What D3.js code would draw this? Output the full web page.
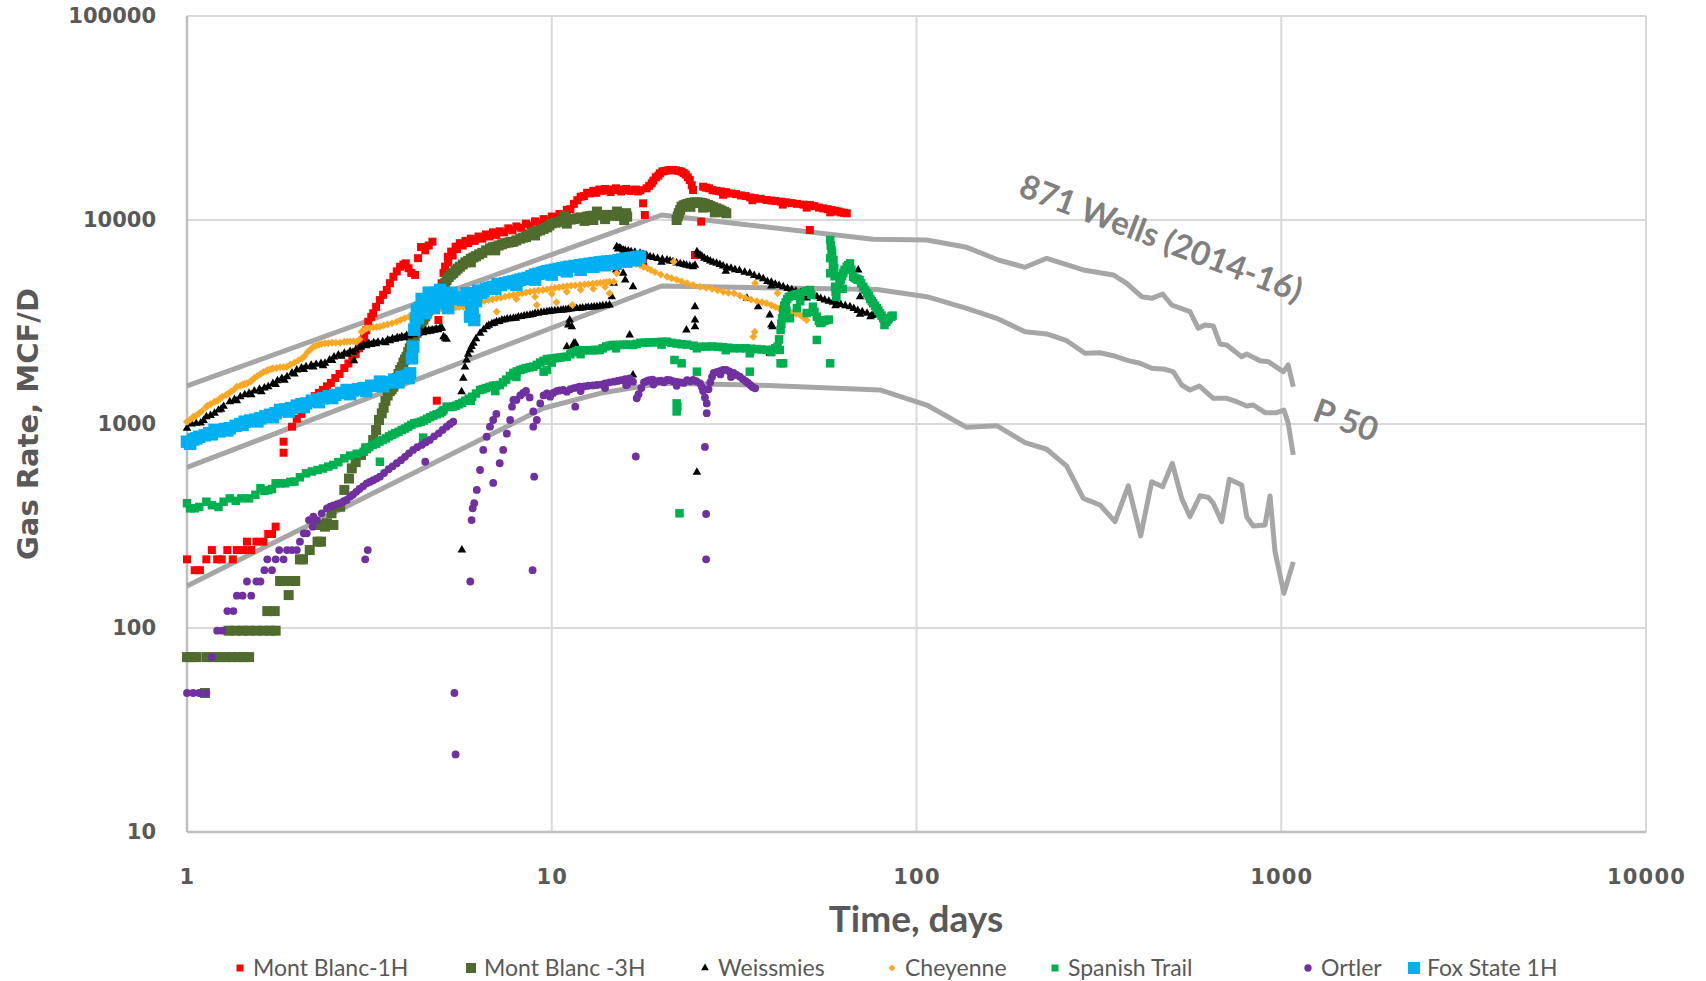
<!DOCTYPE html>
<html><head><meta charset="utf-8">
<script src="https://cdn.jsdelivr.net/npm/d3@7"></script>
<style>html,body{margin:0;padding:0;background:#fff}</style>
</head><body>
<svg id="chart" width="1706" height="981"></svg>
<script>
const xTicks = [1, 10, 100, 1000, 10000];
const yTicks = [10, 100, 1000, 10000, 100000];
const seriesNames = ["Mont Blanc-1H", "Mont Blanc -3H", "Weissmies", "Cheyenne", "Spanish Trail", "Ortler", "Fox State 1H"];
const xTitle = "Time, days";
const yTitle = "Gas Rate, MCF/D";
const annotWells = "871 Wells (2014-16)";
const annotP50 = "P 50";

// type curves (871 wells) : days, MCF/D
const wellsHigh = [[1,1536],[20,10580],[76.1,8043],[106.7,7980],[137.3,7347],[167.6,6368],[198.4,5864],[227.5,6493],[286.6,5688],[346.4,5377],[377,4894],[414.4,4207],[441.3,4132],[473,4338],[500.8,3831],[562,3552],[592.4,2945],[618,3057],[651,3023],[679,2468],[708.7,2440],[779,2137],[804,2204],[874.4,2044],[921.6,2021],[1013,1805],[1045,1946],[1079,1523]];
const wellsP50 = [[1,613],[20,4748],[78,4560],[106.7,4207],[137.3,3692],[165.9,3297],[198.4,2835],[227.5,2762],[258.1,2561],[289.7,2221],[318.6,2236],[346.4,2162],[380.9,2044],[410,1984],[441.3,1875],[480,1854],[505.8,1805],[533.4,1553],[562,1468],[596,1536],[651,1337],[708.7,1337],[755,1286],[804,1225],[838,1239],[902.8,1136],[971.6,1136],[1017,1171],[1045,1008],[1079,705]];
const wellsLow = [[1,160.7],[7.21,934.6],[9.48,1194],[13.56,1414],[19.8,1583],[35.7,1553],[79.4,1468],[106.7,1239],[137.3,963],[165.9,981],[198.4,810],[227.5,752],[258.1,622],[286.6,432],[318.6,401],[350.1,332],[380.8,497],[411.8,283],[441.3,521],[473,493],[502.6,642],[533.4,432],[562,351],[598.7,445],[631,437],[651,409],[686.6,332],[720.4,536],[779,502],[804,351],[838,316],[902.8,320],[931.6,444],[961.3,237],[1017,148],[1079,211]];

const montBlanc1H = [[1.0,217],[1.05,192],[1.085,192],[1.13,217],[1.17,241],[1.21,217],[1.245,217],[1.29,241],[1.335,217],[1.37,241],[1.43,241],[1.46,265],[1.5,241],[1.55,265],[1.62,265],[1.67,289],[1.71,289],[1.75,314],[1.84,723],[1.84,819],[1.94,970],
[2.0,1060],[2.06,1120],[2.12,1200],[2.18,1290],[2.24,1370],[2.3,1420],[2.36,1470],[2.42,1530],[2.48,1590],[2.55,1680],[2.62,1760],[2.7,1880],[2.77,1980],[2.84,2080],[2.9,2200],[2.96,2350],[3.01,2480],[3.06,2650],[3.1,2880],[3.14,3170],[3.2,3350],[3.24,3490],[3.3,3750],[3.38,4050],[3.45,4300],[3.53,4540],[3.6,4900],[3.68,5270],[3.76,5600],[3.84,5900],[3.92,6050],[3.98,6130],[4.05,5800],[4.12,5500],[4.22,5380],[4.3,6500],[4.38,7370],[4.5,7100],[4.6,7500],[4.71,7830],
[4.84,1301],
[4.89,3234],[4.94,4000],[4.99,4894],[5.05,5500],[5.1,5904],[5.19,6600],[5.3,7000],[5.45,7400],[5.6,7700],[5.8,7900],[6.0,8100],[6.3,8300],[6.6,8500],[6.9,8700],[7.2,8800],[7.6,9100],[8.0,9300],[8.5,9600],[9.0,9850],[9.5,10100],[10.0,10400],[10.5,10700],[11.0,11200],[11.5,12000],[12.0,13000],[12.5,13600],[13.0,13900],[13.5,14100],[14.0,14200],[14.5,13700],[15.0,14300],[15.5,13800],[16.0,14200],[16.5,13900],[17.0,14100],[17.5,14000],
[5.2,6200],[5.35,6700],[5.5,7200],[5.7,7500],[5.9,7700],[6.15,7900],[6.45,8100],[6.75,8300],[7.05,8450],[7.4,8700],[7.8,8900],[8.25,9150],[8.75,9400],[9.25,9600],[9.75,9900],[10.25,10200],[10.75,10600],[11.25,11300],[11.75,12500],[12.25,13100],[12.75,13500],[13.25,13600],[13.75,13900],[14.25,14000],[14.75,14100],[15.25,14000],[15.75,14100],[16.25,14000],[16.75,13900],[17.25,13800],
[17.8,12070],[18.0,10580],[17.8,6245],
[18.2,14300],[18.5,14700],[18.8,15130],[19.0,15600],[19.3,16200],[19.6,16500],[19.8,16940],[20.1,17300],[20.4,17400],[20.8,17500],[21.1,17580],[21.5,17600],[21.9,17500],[22.3,17400],[22.7,17250],[23.0,17000],[23.3,16700],[23.6,16200],[23.9,15700],[24.2,14800],[24.4,14030],
[25.7,9810],[24.7,6735],
[26.0,14560],[26.5,14400],[27.0,14300],[27.6,14000],[28.3,13900],[29.1,13800],[30.0,13700],[31,13500],[32.0,13400],[33,13200],[34.0,13100],[35,12900],[36.0,12800],[37.4,12700],[38.8,12530],[40,12450],[41.0,12400],[42.5,12300],[44.0,12200],[45.5,12100],[47.0,12000],[49,11900],[51.0,11850],[52.5,11700],[54.0,11500],[55.5,11400],[57.0,11300],[58.5,11200],[60.0,11100],[61,11000],[62.0,10900],[63.2,10850],[64.4,10790],
[29.5,13300],[35.5,12500],[43,11900],[50,11500],[58,10900],
[51.0,8930]];

const montBlanc3H = [[1.0,72],[1.03,72],[1.06,72],[1.13,72],[1.18,72],[1.23,72],[1.28,72],[1.33,72],[1.38,72],[1.43,72],[1.48,72],[1.12,48],
[1.3,97],[1.36,97],[1.42,97],[1.48,97],[1.55,97],[1.62,97],[1.69,97],[1.75,97],
[1.66,121],[1.74,121],[1.9,145],[1.8,170],[1.87,170],[1.98,170],[2.04,217],[2.08,217],[2.17,241],[2.28,265],[2.33,265],[2.27,320],[2.35,320],[2.42,326],[2.52,320],[2.39,314],[2.49,365],[2.63,393],
[2.7,475],[2.78,540],[2.83,606],[2.9,650],[3.0,705],[3.1,760],[3.24,835],[3.3,934],[3.36,1046],[3.42,1128],[3.46,1200],[3.5,1300],[3.55,1380],[3.6,1450],[3.64,1480],[3.68,1523],[3.72,1600],[3.76,1680],[3.8,1760],[3.84,1840],[3.88,1900],[3.92,2000],[3.96,2070],[4.0,2137],[4.04,2250],[4.08,2350],[4.12,2480],[4.17,2600],[4.21,2700],[4.26,2800],[4.3,2900],[4.35,3000],[4.4,3120],[4.45,3250],[4.5,3370],[4.54,3488],[4.59,3600],[4.64,3700],[4.69,3800],[4.74,3906],[4.79,4030],[4.84,4150],[4.89,4260],[4.94,4372],[4.99,4520],[5.05,4700],[5.1,4900],[5.15,5082],
[5.22,5250],[5.3,5400],[5.37,5500],[5.45,5650],[5.52,5780],[5.6,5904],[5.7,6050],[5.8,6200],[5.9,6300],[6.0,6450],[6.1,6550],[6.2,6650],[6.32,6780],[6.45,6900],[6.6,7100],[6.77,7265],[6.9,7350],[7.0,7400],[7.15,7500],[7.3,7600],[7.45,7700],[7.6,7750],[7.72,7800],[7.85,7829],[8.0,7950],[8.2,8100],[8.35,8200],[8.5,8250],[8.7,8500],[8.9,8700],[9.1,8800],[9.3,8900],[9.5,9050],[9.7,9200],[9.85,9400],[10.0,9630],[10.25,9700],[10.5,9800],[10.65,9900],[10.8,10500],[11.0,10000],[11.25,10050],[11.5,10100],[11.75,10200],[12.0,10300],[12.3,9900],[12.5,10400],[12.75,10450],[13.0,10500],[13.3,11000],[13.55,10580],[13.8,10550],[14.0,10100],[14.2,10600],[14.5,10500],[14.8,10500],[15.1,11000],[15.4,10450],[15.7,10500],[15.8,10000],[16.0,10800],[16.1,10380],
[13.0,10000],[11.0,9600],[9.0,8400],[7.0,7100],[6.0,6200],
[22.0,10000],[22.15,10400],[22.3,10800],[22.5,11200],[22.7,11620],[23.0,11800],[23.3,11900],[23.6,12000],[24.0,12100],[24.3,12150],[24.7,12200],[25.1,12200],[25.5,12150],[25.9,12100],[26.3,12000],[26.8,11850],[27.2,11700],[27.7,11550],[28.3,11410],[28.8,11250],[29.2,11100],[29.7,10950],[30.1,10790],[24.0,11600],[26.0,11500],[28.0,10900]];

const weissmies = [[1.0,953],[1.03,1000],[1.06,1007],[1.09,1010],[1.13,1086],[1.16,1100],[1.19,1130],[1.22,1170],[1.26,1220],[1.31,1286],[1.35,1320],[1.4,1360],[1.44,1390],[1.48,1414],[1.53,1450],[1.58,1480],[1.63,1500],[1.67,1523],[1.72,1580],[1.77,1630],[1.82,1670],[1.88,1706],[1.94,1780],[2.0,1840],[2.06,1880],[2.12,1910],[2.19,1940],[2.26,1960],[2.33,1980],[2.39,1984],[2.46,2060],[2.53,2130],[2.6,2180],[2.7,2221],[2.8,2270],[2.9,2306],[2.97,2380],[3.05,2440],[3.15,2480],[3.25,2500],[3.34,2520],[3.44,2532],[3.55,2580],[3.66,2620],[3.77,2650],[3.88,2679],[4.0,2720],[4.12,2770],[4.25,2800],[4.38,2835],[4.5,2860],[4.6,2880],[4.7,2889],[4.82,2920],[4.94,2945],[5.05,2679],[5.1,2630],[5.15,2600],
[1.11,1040],[1.24,1180],[1.37,1300],[1.5,1390],[1.6,1440],[1.75,1560],[1.85,1640],[1.97,1760],[2.09,1850],[2.22,1900],[2.36,1930],[2.5,2050],[2.65,2150],[2.75,2200],[2.85,2250],[3.0,2380],[3.1,2420],[3.2,2450],[3.3,2470],[3.5,2500],[3.6,2560],[3.72,2600],[3.82,2630],[3.94,2650],[4.06,2700],[4.18,2740],[4.31,2780],[4.44,2800],[4.55,2830],[4.65,2850],[4.76,2880],[4.88,2900],[5.0,2950],
[2.87,2044],
[5.66,1440],[5.72,1675],[5.78,1900],[5.84,2059],[5.9,2200],[5.97,2306],[6.03,2400],[6.1,2487],[6.2,2620],[6.36,2783],[6.5,2900],[6.63,2999],[6.72,3050],[6.85,3100],[6.95,3120],[7.06,3174],[7.18,3180],[7.3,3230],[7.42,3240],[7.55,3270],[7.7,3280],[7.85,3297],[7.97,3300],[8.1,3350],[8.25,3360],[8.4,3390],[8.55,3400],[8.72,3422],[8.86,3440],[9.0,3480],[9.17,3490],[9.35,3520],[9.52,3530],[9.7,3552],[9.85,3560],[10.0,3580],[10.2,3590],[10.4,3600],[10.6,3610],[10.75,3620],[10.92,3630],[11.1,3650],[11.3,3660],[11.5,3680],[11.7,3680],[11.95,3690],[12.15,3700],[12.4,3720],[12.6,3730],[12.85,3740],[13.07,3750],[13.3,3758],[13.55,3780],[13.8,3800],[14.1,3810],[14.4,3831],[14.6,4207],[14.8,4894],[15.0,5688],[15.05,6500],[15.07,7400],[15.2,7200],[15.3,7300],[15.45,7250],[15.7,7130],[15.9,7100],[16.2,7050],[16.5,7000],[16.9,6950],[17.46,6870],[17.8,6800],[18.2,6700],[18.6,6600],[19.0,6550],[19.5,6480],[20.1,6420],[20.7,6368],[21.1,6300],[21.5,6250],[22,6150],[22.5,6100],[23,6050],[23.4,6000],[23.9,5950],[24.4,5904],[24.7,6000],[25.0,6993],[25.2,6800],[25.5,6735],[25.8,6650],[26.2,6500],[26.7,6400],[27.2,6300],[27.7,6200],[28.3,6133],[28.9,6050],[29.5,5950],[30.2,5850],[31,5800],[31.8,5700],[32.7,5650],[33.8,5550],[34.9,5480],[35.9,5350],[37,5250],[38,5150],[39,5000],[40,4950],[41,4850],[42,4780],[43.1,4710],[44.3,4620],[45.5,4550],[46.7,4480],[48,4400],[49.2,4350],[50.5,4300],[51.9,4250],[53.3,4207],[54.6,4120],[56,4050],[57.5,4000],[59,3950],[60.5,3900],[62,3850],[63.8,3800],[65.7,3758],[67.3,3680],[69,3600],[71,3550],[73.2,3488],[74.8,3358],[75.5,3400],[76.1,3422],
[20,6200],[30,5600],[40,4750],[50,4150],[60,3800],[70,3450],
[5.67,241],[11.1,3057],[11.35,2999],[11.0,2393],[11.5,2487],[11.2,3234],[11.4,2393],[11.6,2487],[15.7,5480],[15.9,5082],[16.7,4710],[24.7,3758],[24.7,3234],[24.7,2999],[23.4,2889],[16.35,2732],[16.7,1740],[25.0,580],[39.6,3422],[40,3057],[40.3,2999],[39.6,2221],[36.8,3758],[34.3,4132],[69.2,5688],[70,4207]];

const cheyenne = [[1.0,1026],[1.02,1050],[1.04,1086],[1.06,1100],[1.08,1130],[1.1,1160],[1.13,1216],[1.14,1230],[1.16,1250],[1.19,1286],[1.21,1300],[1.23,1330],[1.25,1360],[1.28,1387],[1.3,1410],[1.32,1440],[1.35,1480],[1.37,1523],[1.4,1540],[1.42,1560],[1.44,1570],[1.46,1580],[1.49,1610],[1.51,1643],[1.53,1680],[1.56,1720],[1.59,1760],[1.62,1800],[1.65,1820],[1.67,1840],[1.7,1860],[1.72,1870],[1.76,1880],[1.8,1900],[1.84,1900],[1.88,1910],[1.92,1950],[1.97,2000],[2.02,2050],[2.07,2099],[2.1,2150],[2.14,2250],[2.18,2320],[2.22,2393],[2.26,2420],[2.3,2450],[2.34,2470],[2.39,2487],[2.44,2490],[2.5,2500],[2.56,2500],[2.63,2500],[2.7,2532],[2.75,2530],[2.8,2540],[2.86,2540],[2.92,2532],[2.97,2600],[3.01,2835],[3.06,2900],[3.11,2945],[3.17,2960],[3.24,2980],[3.31,2990],[3.38,2999],[3.46,3040],[3.55,3080],[3.65,3120],[3.76,3174],[3.85,3230],[3.95,3300],[4.06,3360],[4.17,3422],[4.28,3460],[4.4,3490],[4.51,3520],[4.63,3552],[4.76,3590],[4.9,3620],[5.02,3650],[5.15,3690],[5.3,3700],[5.45,3720],[5.58,3740],[5.72,3758],[5.86,3800],[6.0,3850],[6.18,3920],[6.36,3977],[6.53,4010],[6.7,4050],[6.88,4090],[7.06,4132],[7.25,4170],[7.45,4210],[7.65,4250],[7.85,4293],[8.08,4330],[8.3,4370],[8.5,4410],[8.72,4452],[8.95,4480],[9.2,4510],[9.45,4540],[9.7,4570],[9.95,4600],[10.2,4640],[10.47,4680],[10.75,4710],[11.02,4730],[11.3,4760],[11.6,4780],[11.95,4802],[12.3,4830],[12.6,4850],[12.95,4870],[13.3,4894],[13.6,4920],[13.9,4940],[14.15,4960],[14.4,4984],[14.8,4984],[15.07,5480],[15.3,6500],[15.5,6200],[15.8,6250],[16,6300],[16.3,6200],[16.7,6150],[17.05,6080],[17.46,6019],[17.85,5900],[18.3,5800],[18.7,5680],[19.2,5550],[19.9,5400],[20.7,5272],[21.3,5180],[22,5100],[22.7,5000],[23.5,4900],[24.4,4800],[25.5,4710],[26.5,4650],[27.5,4600],[28.5,4520],[29.5,4450],[30.5,4400],[31.6,4372],[32.8,4250],[34,4150],[35.2,4070],[36.5,4000],[37.7,3950],[38.8,3906],[40,3820],[41,3750],[42,3680],[43.1,3620],[44.3,3570],[45.5,3520],[46.8,3470],[48.0,3422],[49,3330],[50.0,3234],
[8,4100],[9,4200],[10,4350],[11,4450],[12,4550],[13,4600],[14,4700],
[7.06,3552],[9.1,3831],[10.3,3950],[11.4,3831],[14.4,4372],[21.6,6245],[36.1,4894],[35.7,2679],[36.0,2835],[41.6,4372],[49.3,3422]];

const spanishTrail = [[1.0,409],[1.02,386],[1.05,386],[1.08,392],[1.13,416],[1.17,400],[1.22,392],[1.26,416],[1.31,432],[1.36,420],[1.41,432],[1.48,432],[1.54,450],[1.59,484],[1.63,470],[1.67,474],[1.71,480],[1.75,512],[1.8,512],[1.86,512],[1.92,520],[1.97,522],[2.04,548],[2.12,573],[2.2,585],[2.28,595],[2.36,605],[2.44,618],[2.52,630],[2.6,650],[2.7,679],[2.8,700],[2.92,715],[3.05,731],[3.1,760],[3.16,770],[3.23,790],[3.3,800],[3.37,820],[3.44,835],[3.51,850],[3.58,870],[3.65,885],[3.72,900],[3.8,915],[3.88,934],[3.96,950],[4.04,970],[4.12,990],[4.2,1008],[4.29,1015],[4.38,1026],[4.46,1040],[4.55,1060],[4.64,1080],[4.74,1100],[4.84,1115],[4.94,1130],[5.05,1170],[5.15,1216],[5.25,1210],[5.35,1216],[5.46,1230],[5.57,1250],[5.68,1270],[5.8,1300],[5.92,1330],[6.05,1360],[6.2,1410],[6.36,1468],[6.48,1480],[6.6,1500],[6.75,1520],[6.9,1540],[7.05,1545],[7.21,1553],[7.35,1600],[7.5,1650],[7.68,1720],[7.85,1780],[8.02,1810],[8.2,1840],[8.35,1860],[8.5,1880],[8.7,1895],[8.9,1910],[9.1,1950],[9.3,2000],[9.5,2040],[9.7,2080],[9.95,2090],[10.2,2100],[10.4,2110],[10.6,2120],[10.8,2130],[11.0,2137],[11.25,2200],[11.5,2250],[11.7,2280],[11.95,2300],[12.25,2300],[12.6,2300],[12.9,2300],[13.1,2306],[13.3,2306],[13.55,2306],[13.8,2350],[14.1,2400],[14.4,2420],[14.7,2440],[15.05,2440],[15.4,2440],[15.7,2445],[16.0,2450],[16.35,2445],[16.7,2440],[17.1,2470],[17.5,2500],[18,2505],[18.5,2510],[19,2515],[19.5,2520],[20.1,2530],[20.7,2532],[21.3,2500],[22,2480],[22.7,2460],[23.5,2450],[24.5,2420],[25.5,2393],[26.5,2395],[27.5,2400],[28.5,2390],[29.5,2380],[30.5,2365],[31.6,2350],[32.8,2350],[34,2350],[35.2,2340],[36.5,2330],[37.6,2320],[38.8,2306],[40,2310],[41,2350],[41.6,2393],
[5,1150],[6,1300],[7,1450],[8,1700],[10,2000],[12,2200],[15,2350],[20,2450],[25,2350],[30,2300],[35,2280],[40,2250],
[42,2600],[42.4,2889],[42.6,3100],[42.8,3300],[43.1,3620],[43.4,3800],[43.8,3950],[44.2,4100],[44.7,4207],[45.5,4250],[46.3,4300],[47,4330],[48,4372],[49.5,4450],[50,4480],[51,4538],[51.5,4300],[52,3758],[52.5,3550],[53.3,3358],[54,3200],[54.5,3125],[55,3150],[55.5,3200],[56,3220],[56.8,3234],[57.5,3250],[58,5480],[58,6500],[58.2,7500],[58,7980],[58.5,7130],[58.7,6900],[59,6000],[59.2,6368],[59.5,5800],[59.6,5300],[59.8,4710],[60,4450],[60.3,4207],[61,4600],[61.5,4894],[62,5100],[62.5,5300],[62.8,4600],[63,5500],[63.5,5700],[64.4,5904],[65,6000],[65.7,6133],[66.3,5700],[67,5272],[67.7,5200],[68.5,5150],[69,5100],[69.8,5082],[70.5,4900],[71.5,4700],[72.3,4550],[73.2,4372],[74,4250],[74.7,4100],[75.4,4000],[76.1,3906],[77,3800],[77.8,3700],[78.6,3600],[79.4,3488],[80.2,3400],[81,3300],[81.7,3057],[82.7,3174],[83.5,3250],[84,3300],[85.3,3358],[86,3400],
[45,3300],[47,3700],[50,3500],[48,4000],[44,3600],
[42.4,1984],[42.2,2306],[3.38,653],[4.44,858],[9.5,1805],[9.7,1840],[21.7,2059],[22.7,1984],[25,1805],[22,1262],[22,1152],[22.1,1216],[34.9,2221],[34.9,1805],[22.4,365],[53.3,2582],[58,1984],[43.1,1984]];

const ortler = [[1.0,48],[1.04,48],[1.08,48],[1.13,48],[1.17,72],[1.21,97],[1.25,97],[1.29,121],[1.34,121],[1.37,144],[1.42,144],[1.46,169],[1.5,144],[1.55,169],[1.59,169],[1.63,192],[1.66,217],[1.71,192],[1.75,217],[1.79,241],[1.84,217],[1.88,241],[1.94,241],[2.0,241],[2.04,265],[2.09,291],[2.13,291],[2.16,338],[2.21,314],[2.22,351],[2.27,338],[2.34,365],[2.42,386],[2.47,393],[2.52,399],[2.58,405],[2.63,409],[2.69,418],[2.74,424],[2.8,440],[2.85,450],[2.91,465],[2.97,480],[3.04,495],[3.11,512],[3.17,520],[3.24,530],[3.31,540],[3.38,552],[3.47,575],[3.57,600],[3.66,620],[3.76,642],[3.86,665],[3.96,690],[4.06,718],[4.17,746],[4.28,770],[4.4,790],[4.51,812],[4.63,835],[4.76,870],[4.9,900],[5.02,935],[5.15,970],[5.26,1000],[5.37,1026],
[3.08,217],[3.13,241],[4.5,653],[5.41,48],[5.45,24],[5.98,169],
[6.03,338],[6.07,386],[6.13,409],[6.23,475],[6.36,595],[6.49,746],[6.63,866],[6.77,970],[6.91,1046],[7.05,1120],[6.91,514],[7.2,642],[7.36,746],[7.53,897],[7.69,1046],[7.78,1216],[7.85,1312],[8.0,1312],[8.2,1380],[8.35,1420],[8.5,1453],[8.7,1350],[8.9,1152],[8.9,970],[8.95,552],[8.86,192],[9.1,1046],[9.3,1262],[9.5,1380],[9.7,1414],[9.9,1361],[10.1,1420],[10.3,1450],[10.5,1460],[10.75,1468],[11.0,1440],[11.25,1480],[11.5,1500],[11.75,1510],[11.95,1523],[12.3,1530],[12.6,1540],[12.95,1545],[13.3,1553],[13.65,1560],[14.0,1580],[14.4,1600],[14.8,1613],[15.15,1625],[15.5,1640],[15.9,1660],[16.1,1560],[16.35,1675],[16.7,1613],[17.1,1337],[17.3,1400],[17.6,1500],[17.9,1600],[18.2,1620],[18.5,1640],[18.9,1650],[19.5,1620],[19.9,1630],[20.3,1600],[20.7,1643],[21.1,1640],[21.5,1620],[22,1610],[22.5,1600],[23,1590],[23.5,1640],[24,1620],[24.4,1643],[24.9,1620],[25.5,1583],[25.8,1520],[26.0,1450],[26.3,1350],[26.6,1262],[26.6,1130],[26.9,1480],[27.2,1600],[27.5,1700],[27.8,1780],[28.4,1800],[29,1820],[29.5,1840],[30.1,1840],[30.7,1810],[31.5,1780],[32.1,1740],[32.8,1706],[33.4,1660],[34,1620],[34.5,1590],[35,1553],[35.5,1520],[36.1,1496],
[12,1450],[14,1500],[16,1550],[19,1560],[22,1540],[29,1750],[31,1700],
[11.6,1216],[17.0,693],[26.3,772],[26.5,362],[26.5,217]];

const foxState1H = [[1.0,819],[1.02,800],[1.04,840],[1.08,866],[1.12,880],[1.15,900],[1.19,934],[1.23,920],[1.27,945],[1.31,953],[1.36,980],[1.4,1000],[1.44,1026],[1.49,1040],[1.54,1050],[1.59,1066],[1.64,1090],[1.69,1110],[1.75,1130],[1.8,1172],[1.86,1180],[1.93,1196],[2.0,1230],[2.06,1250],[2.12,1262],[2.2,1300],[2.28,1320],[2.36,1337],[2.45,1370],[2.55,1390],[2.65,1420],[2.74,1468],[2.85,1460],[2.95,1480],[3.05,1500],[3.2,1540],[3.38,1613],[3.55,1600],[3.7,1650],[3.88,1700],[4.0,1720],[4.09,1772],
[1.06,850],[1.17,890],[1.29,930],[1.42,990],[1.56,1030],[1.72,1080],[1.9,1150],[2.09,1210],[2.3,1280],[2.5,1340],[2.8,1400],[3.1,1450],[3.45,1530],[3.8,1600],[4.05,1680],
[4.14,2100],[4.17,2393],[4.2,2900],[4.24,3300],[4.27,3620],[4.3,3300],[4.35,3700],[4.4,4100],[4.45,3800],[4.5,3500],[4.55,3850],[4.6,4400],[4.63,3906],[4.7,4300],[4.75,3700],[4.8,4400],[4.85,4000],[4.94,4538],[5.0,3900],[5.05,4300],[5.15,4207],[5.2,3700],[5.3,4400],[5.45,4200],[5.6,4100],[5.72,4054],[5.85,4372],[5.97,3358],[6.02,3758],[6.07,3488],[6.13,3234],[6.2,4000],[6.29,4500],[6.4,4400],[6.5,4500],[6.6,4600],[6.75,4650],[6.9,4700],[7.1,4850],[7.25,4800],[7.45,4900],[7.65,4950],[7.85,5000],[8.05,5050],[8.2,5100],[8.4,5150],[8.6,5200],[8.8,5300],[9.0,5400],[9.2,5450],[9.4,5500],[9.55,5550],[9.7,5600],[9.95,5650],[10.2,5700],[10.45,5750],[10.7,5800],[10.95,5850],[11.2,5900],[11.55,5950],[11.95,6000],[12.3,6050],[12.7,6100],[13.1,6150],[13.55,6200],[13.9,6230],[14.2,6250],[14.55,6280],[14.9,6300],[15.25,6350],[15.6,6400],[15.95,6450],[16.35,6500],[16.7,6520],[17.0,6550],[17.25,6580],[17.46,6607],
[7,4600],[8,4800],[9,5100],[10,5400],[11,5600],[12,5700],[13,5900],[14,6000],[15,6100],[16,6250],[17,6350]];

const svg = d3.select("#chart");
const x = d3.scaleLog().domain([1, 10000]).range([187, 1646]);
const y = d3.scaleLog().domain([10, 100000]).range([832, 16]);
const [x0, x1] = x.range();
const [y0, y1] = y.range();

const grid = svg.append("g");
grid.selectAll("line.v").data(xTicks).join("line").attr("class","v")
  .attr("x1", d => x(d)).attr("x2", d => x(d)).attr("y1", y1).attr("y2", y0)
  .attr("stroke", "#d9d9d9").attr("stroke-width", 2);
grid.selectAll("line.h").data(yTicks).join("line").attr("class","h")
  .attr("x1", x0).attr("x2", x1).attr("y1", d => y(d)).attr("y2", d => y(d))
  .attr("stroke", "#d9d9d9").attr("stroke-width", 2);
grid.append("line").attr("x1", x0).attr("x2", x0).attr("y1", y1).attr("y2", y0).attr("stroke", "#bfbfbf").attr("stroke-width", 2.5);
grid.append("line").attr("x1", x0).attr("x2", x1).attr("y1", y0).attr("y2", y0).attr("stroke", "#bfbfbf").attr("stroke-width", 2.5);

const fmt = d3.format("d");
const xAxis = svg.append("g").attr("transform", `translate(0,${y0})`)
  .call(d3.axisBottom(x).tickValues(xTicks).tickFormat(fmt).tickSize(0).tickPadding(37));
const yAxis = svg.append("g").attr("transform", `translate(${x0},0)`)
  .call(d3.axisLeft(y).tickValues(yTicks).tickFormat(fmt).tickSize(0).tickPadding(31));
[xAxis, yAxis].forEach(g => {
  g.select(".domain").remove();
  g.selectAll("text").attr("font-family", "'DejaVu Sans', sans-serif").attr("font-weight", "bold")
    .attr("font-size", 21).attr("fill", "#595959");
});
xAxis.selectAll("text").attr("letter-spacing", 1.2);

// type curves
const line = d3.line().x(d => x(d[0])).y(d => y(d[1]));
svg.append("g").selectAll("path").data([wellsHigh, wellsP50, wellsLow]).join("path")
  .attr("d", line).attr("fill", "none").attr("stroke", "#a6a6a6").attr("stroke-width", 5)
  .attr("stroke-linejoin", "round").attr("stroke-linecap", "butt");

// series
const sq = s => d3.symbol(d3.symbolSquare, s * s)();
const styles = [
  { data: montBlanc1H, color: "#ff0000", path: sq(8), rot: 0 },
  { data: montBlanc3H, color: "#4f6b2e", path: sq(10), rot: 0 },
  { data: weissmies, color: "#000000", path: d3.symbol(d3.symbolTriangle, 32)(), rot: 0 },
  { data: cheyenne, color: "#f9a825", path: sq(5.6), rot: 45 },
  { data: spanishTrail, color: "#00b050", path: sq(8.5), rot: 0 },
  { data: ortler, color: "#7030a0", path: d3.symbol(d3.symbolCircle, 48)(), rot: 0 },
  { data: foxState1H, color: "#00b0f0", path: sq(12.5), rot: 0 }
];
styles.forEach(s => {
  svg.append("g").selectAll("path").data(s.data).join("path")
    .attr("d", s.path).attr("fill", s.color)
    .attr("transform", d => `translate(${x(d[0])},${y(d[1])}) rotate(${s.rot})`);
});

// annotations
svg.append("text").text(annotWells)
  .attr("transform", "translate(1157,249) rotate(21)")
  .attr("text-anchor", "middle").attr("font-family", "Lato, sans-serif").attr("font-weight", 700)
  .attr("font-size", 33).attr("fill", "#808080");
svg.append("text").text(annotP50)
  .attr("transform", "translate(1342,431) rotate(20)")
  .attr("text-anchor", "middle").attr("font-family", "Lato, sans-serif").attr("font-weight", 700)
  .attr("font-size", 33).attr("fill", "#808080");

// axis titles
svg.append("text").text(xTitle).attr("x", 916).attr("y", 932).attr("text-anchor", "middle")
  .attr("font-family", "Lato, sans-serif").attr("font-weight", 700).attr("font-size", 37).attr("fill", "#595959");
svg.append("text").text(yTitle).attr("transform", "translate(38,424) rotate(-90)").attr("text-anchor", "middle")
  .attr("font-family", "'DejaVu Sans', sans-serif").attr("font-weight", 700).attr("font-size", 29).attr("fill", "#595959");

// legend: entry slots as laid out in the original
const legendX = [240, 471, 705, 892, 1055, 1308, 1414];
const legendMarkers = [sq(7), sq(10), d3.symbol(d3.symbolTriangle, 26)(), sq(5), sq(7), d3.symbol(d3.symbolCircle, 42)(), sq(12)];
const leg = svg.append("g").attr("transform", "translate(0,976)");
seriesNames.forEach((name, i) => {
  const g = leg.append("g");
  g.append("path").attr("d", legendMarkers[i]).attr("fill", styles[i].color)
    .attr("transform", `translate(${legendX[i]},-8) rotate(${styles[i].rot})`);
  g.append("text").text(name).attr("x", legendX[i] + 13).attr("y", 0)
    .attr("font-family", "Lato, sans-serif").attr("font-size", 23).attr("fill", "#595959");
});
</script>
</body></html>
